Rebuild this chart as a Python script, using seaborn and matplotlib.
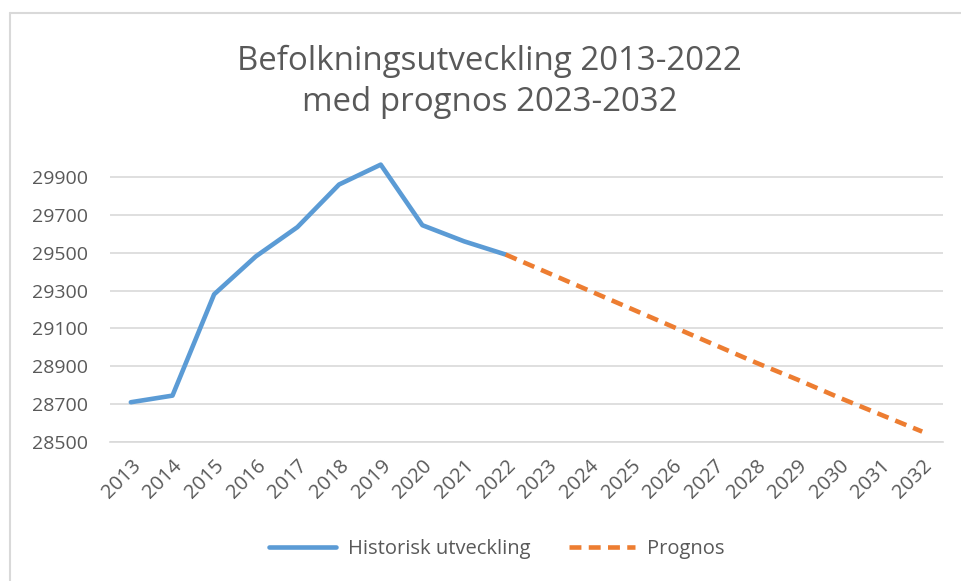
import pandas as pd
import matplotlib.pyplot as plt
import seaborn as sns
from matplotlib.lines import Line2D

# data
hist_years = list(range(2013, 2023))
hist_values = [28710, 28745, 29280, 29480, 29635, 29860, 29965, 29645, 29560, 29490]

prog_years = list(range(2022, 2033))
prog_values = [29490, 29395, 29300, 29205, 29110, 29015, 28920, 28830, 28735, 28645, 28555]

all_years = list(range(2013, 2033))
y_ticks = [28500, 28700, 28900, 29100, 29300, 29500, 29700, 29900]

title = "Befolkningsutveckling 2013-2022\nmed prognos 2023-2032"
labels = ["Historisk utveckling", "Prognos"]

blue = "#5B9BD5"
orange = "#ED7D31"
txt = "#595959"

df_hist = pd.DataFrame({"year": hist_years, "value": hist_values})
df_prog = pd.DataFrame({"year": prog_years, "value": prog_values})

sns.set_style("white")
plt.rcParams["font.family"] = ["Open Sans", "DejaVu Sans"]

fig = plt.figure(figsize=(9.62, 5.81), dpi=100)
ax = fig.add_axes([110 / 962, 1 - 442 / 581, 833 / 962, 284 / 581])

sns.lineplot(data=df_hist, x="year", y="value", ax=ax, color=blue, linewidth=3.3,
             solid_capstyle="round")
sns.lineplot(data=df_prog, x="year", y="value", ax=ax, color=orange, linewidth=3.3,
             dashes=False, linestyle=(0, (2.6, 1.6)), dash_capstyle="butt")

ax.set_xlim(2012.5, 2032.5)
ax.set_ylim(28500, 30000)
ax.set_yticks(y_ticks)
ax.set_xticks(all_years)
ax.set_xlabel("")
ax.set_ylabel("")
ax.grid(axis="y", color="#d9d9d9", linewidth=1.2)
ax.grid(axis="x", visible=False)
for s in ["top", "right", "left"]:
    ax.spines[s].set_visible(False)
ax.spines["bottom"].set_color("#d9d9d9")
ax.spines["bottom"].set_linewidth(1.2)

ax.tick_params(axis="y", length=0, pad=16, labelsize=14, labelcolor=txt)
ax.tick_params(axis="x", length=0, pad=10, labelsize=14.5, labelcolor=txt)
for lab in ax.get_xticklabels():
    lab.set_rotation(45)
    lab.set_ha("right")
    lab.set_va("top")
    lab.set_rotation_mode("anchor")

fig.text(0.509, 1 - 82 / 581, title, ha="center", va="center", fontsize=23.8,
         color=txt, linespacing=1.3)

handles = [Line2D([], [], color=blue, linewidth=3.3),
           Line2D([], [], color=orange, linewidth=3.3, linestyle=(0, (2.6, 1.6)))]
fig.legend(handles, labels, loc="center", bbox_to_anchor=(497 / 962, 1 - 549 / 581), ncol=2,
           frameon=False, fontsize=14.5, labelcolor=txt, handlelength=3.3,
           columnspacing=1.9, handletextpad=0.6)

# thin chart-area border on the top and left
fig.add_artist(Line2D([10 / 962, 10 / 962], [0, 1 - 13 / 581], transform=fig.transFigure,
                      color="#d9d9d9", linewidth=1.5))
fig.add_artist(Line2D([10 / 962, 1], [1 - 13 / 581, 1 - 13 / 581], transform=fig.transFigure,
                      color="#d9d9d9", linewidth=1.5))

fig.savefig("out.png", dpi=100, facecolor="white")
